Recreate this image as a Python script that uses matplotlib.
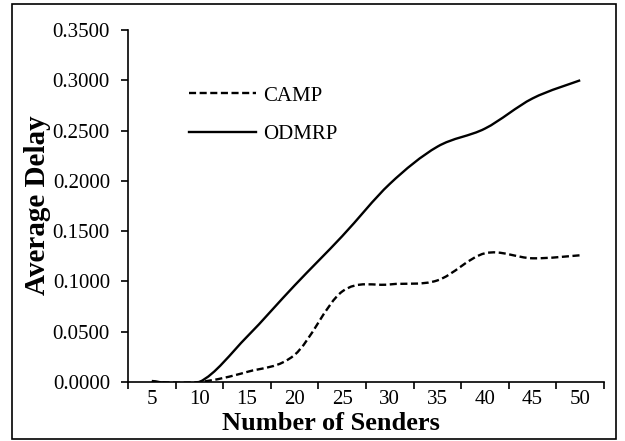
import matplotlib
matplotlib.use("Agg")
import matplotlib.pyplot as plt
from matplotlib.path import Path
from matplotlib.patches import PathPatch, Rectangle
from matplotlib.lines import Line2D
import numpy as np

senders = [5, 10, 15, 20, 25, 30, 35, 40, 45, 50]
camp = [0.0, 0.0, 0.010, 0.027, 0.090, 0.097, 0.101, 0.128, 0.123, 0.126]
odmrp = [0.001, 0.0, 0.045, 0.096, 0.145, 0.197, 0.234, 0.252, 0.282, 0.300]
yticks = [0.0, 0.05, 0.10, 0.15, 0.20, 0.25, 0.30, 0.35]

plt.rcParams['font.family'] = ['Liberation Serif', 'DejaVu Serif']

fig = plt.figure(figsize=(6.25, 4.41), dpi=100)
ax = fig.add_axes([128/625, 1-382/441, (604-128)/625, (382-30)/441])

def smooth_path(xs, ys):
    pts = np.column_stack([xs, ys]).astype(float)
    n = len(pts)
    verts = [pts[0]]
    codes = [Path.MOVETO]
    for i in range(n - 1):
        p0 = pts[i - 1] if i > 0 else pts[i]
        p1 = pts[i]
        p2 = pts[i + 1]
        p3 = pts[i + 2] if i + 2 < n else pts[i + 1]
        c1 = p1 + (p2 - p0) / 6.0
        c2 = p2 - (p3 - p1) / 6.0
        verts += [c1, c2, p2]
        codes += [Path.CURVE4] * 3
    return Path(verts, codes)

dash = (0, (3.0, 1.5))
lw = 1.7
xpos = np.arange(1, len(senders) + 1)
p_camp = PathPatch(smooth_path(xpos, camp), fill=False, edgecolor='black', lw=lw,
                   linestyle=dash, capstyle='butt')
p_odmrp = PathPatch(smooth_path(xpos, odmrp), fill=False, edgecolor='black', lw=lw)
ax.add_patch(p_camp)
ax.add_patch(p_odmrp)

ax.set_xlim(0.5, len(senders) + 0.5)
ax.set_ylim(0, 0.35)
ax.set_yticks(yticks)
ax.set_yticklabels([f"{v:.4f}" for v in yticks], fontsize=15)
ax.set_xticks(np.arange(0.5, len(senders) + 1, 1.0))
ax.set_xticklabels([])
ax.set_xticks(xpos, minor=True)
ax.set_xticklabels([str(s) for s in senders], minor=True, fontsize=15)
ax.tick_params(axis='x', which='minor', length=0, pad=6)
ax.tick_params(axis='x', which='major', length=5, width=1.2, direction='out')
ax.tick_params(axis='y', length=5, width=1.2, direction='out', pad=8)
for s in ['top', 'right']:
    ax.spines[s].set_visible(False)
for s in ['left', 'bottom']:
    ax.spines[s].set_linewidth(1.2)

ax.set_xlabel('Number of Senders', fontsize=19, fontweight='bold')
ax.xaxis.set_label_coords((331-128)/476, (382-430)/352)
ax.xaxis.label.set_va('baseline')
ax.set_ylabel('Average Delay', fontsize=21, fontweight='bold')
ax.yaxis.set_label_coords((38-128)/476, (382-205)/352)
ax.yaxis.label.set_va('center')

h1 = Line2D([], [], color='black', lw=lw, linestyle=dash)
h2 = Line2D([], [], color='black', lw=lw)
ax.legend([h1, h2], ['CAMP', 'ODMRP'], loc='upper left',
          bbox_to_anchor=((189-128)/476, (382-86)/352),
          frameon=False, fontsize=15, handlelength=3.2, handletextpad=0.37,
          labelspacing=0.9, borderpad=0, borderaxespad=0)

fig.patches.append(Rectangle((12/625, 1-439/441), (616-12)/625, (439-4)/441,
                             transform=fig.transFigure, fill=False, edgecolor='black', lw=1.2))

fig.savefig('out.png', dpi=100)
